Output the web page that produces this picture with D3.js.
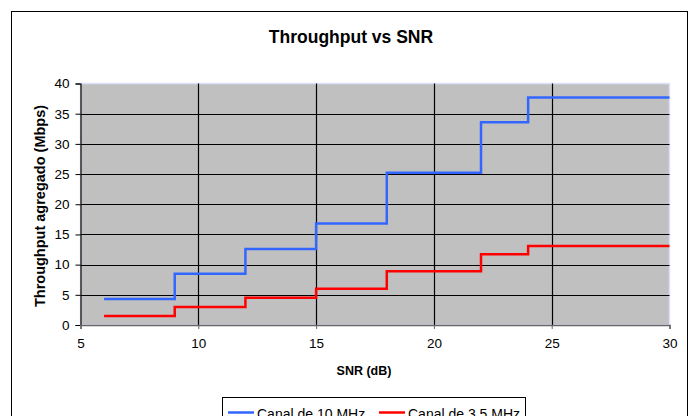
<!DOCTYPE html>
<html><head><meta charset="utf-8">
<script src="https://cdn.jsdelivr.net/npm/d3@7"></script>
<style>body{margin:0;background:#fff}svg{display:block}text{font-family:"Liberation Sans",Arial,sans-serif;fill:#000}</style>
</head><body>
<script>
const snrSteps = [6, 9, 12, 15, 18, 22, 24, 30];
const canal10 = [4.3, 8.5, 12.6, 16.8, 25.2, 33.6, 37.7, 37.7];
const canal35 = [1.5, 3.0, 4.5, 6.0, 8.9, 11.7, 13.1, 13.1];
const seriesNames = ["Canal de 10 MHz", "Canal de 3.5 MHz"];
const seriesColors = ["#3366ff", "#ff0000"];
const xTicks = [5, 10, 15, 20, 25, 30];
const yTicks = [0, 5, 10, 15, 20, 25, 30, 35, 40];

const W = 692, H = 416;
const svg = d3.select("body").append("svg").attr("width", W).attr("height", H);

// chart frame
svg.append("rect").attr("x", 11.5).attr("y", 11.5).attr("width", 676).attr("height", 420)
  .attr("fill", "#fff").attr("stroke", "#000").attr("stroke-width", 1);

const L = 80.5, R = 669.5, T = 83.5, B = 325;
const x = d3.scaleLinear().domain([5, 30]).range([L, R]);
const y = d3.scaleLinear().domain([0, 40]).range([B, T]);

// plot background
svg.append("rect").attr("x", L).attr("y", T).attr("width", R - L).attr("height", B - T)
  .attr("fill", "#c0c0c0").attr("stroke", "#dfe0ff").attr("stroke-width", 1.5);

// grid
svg.append("g").selectAll("line").data(yTicks.filter(d => d > 0 && d < 40)).join("line")
  .attr("x1", L).attr("x2", R).attr("y1", d => Math.round(y(d)) + 0.5).attr("y2", d => Math.round(y(d)) + 0.5)
  .attr("stroke", "#000").attr("stroke-width", 1.2);
svg.append("g").selectAll("line").data(xTicks.filter(d => d > 5 && d < 30)).join("line")
  .attr("y1", T).attr("y2", B).attr("x1", d => Math.round(x(d)) + 0.5).attr("x2", d => Math.round(x(d)) + 0.5)
  .attr("stroke", "#000").attr("stroke-width", 1.2);

// axes
const yAxis = d3.axisLeft(y).tickValues(yTicks).tickSize(5).tickPadding(6);
const gy = svg.append("g").attr("transform", `translate(${L},0)`).call(yAxis);
gy.select(".domain").attr("stroke", "#000").attr("stroke-width", 1.2);
gy.selectAll(".tick line").attr("stroke", "#000");
gy.selectAll("text").style("font-size", "13.5px").attr("fill", "#000");

const xAxis = d3.axisBottom(x).tickValues(xTicks).tickSize(4).tickPadding(9);
const gx = svg.append("g").attr("transform", `translate(0,${B})`).call(xAxis);
gx.select(".domain").attr("stroke", "#666").attr("stroke-width", 1.5);
gx.selectAll(".tick line").attr("stroke", "#666");
gx.selectAll("text").style("font-size", "13.5px").attr("fill", "#000");

// lines
const line = d3.line().x(d => x(d[0])).y(d => y(d[1])).curve(d3.curveStepAfter);
[canal10, canal35].forEach((vals, i) => {
  svg.append("path").datum(snrSteps.map((s, j) => [s, vals[j]]))
    .attr("d", line).attr("fill", "none").attr("stroke", seriesColors[i]).attr("stroke-width", 2.5);
});

// titles
svg.append("text").attr("x", 351).attr("y", 42.5).attr("text-anchor", "middle")
  .style("font-size", "17.5px").style("font-weight", "bold").text("Throughput vs SNR");
svg.append("text").attr("x", 364).attr("y", 375).attr("text-anchor", "middle")
  .style("font-size", "12.5px").style("font-weight", "bold").text("SNR (dB)");
svg.append("text").attr("transform", `translate(45,206) rotate(-90)`).attr("text-anchor", "middle")
  .style("font-size", "14.5px").style("font-weight", "bold").text("Throughput agregado (Mbps)");

// legend
const lg = svg.append("g");
lg.append("rect").attr("x", 222.5).attr("y", 397.5).attr("width", 303).attr("height", 30)
  .attr("fill", "#fff").attr("stroke", "#000");
const lx = [228, 379];
seriesNames.forEach((n, i) => {
  lg.append("line").attr("x1", lx[i]).attr("x2", lx[i] + 26).attr("y1", 412.5).attr("y2", 412.5)
    .attr("stroke", seriesColors[i]).attr("stroke-width", 2.5);
  lg.append("text").attr("x", lx[i] + 29).attr("y", 419).style("font-size", "14px").text(n);
});
</script>
</body></html>
